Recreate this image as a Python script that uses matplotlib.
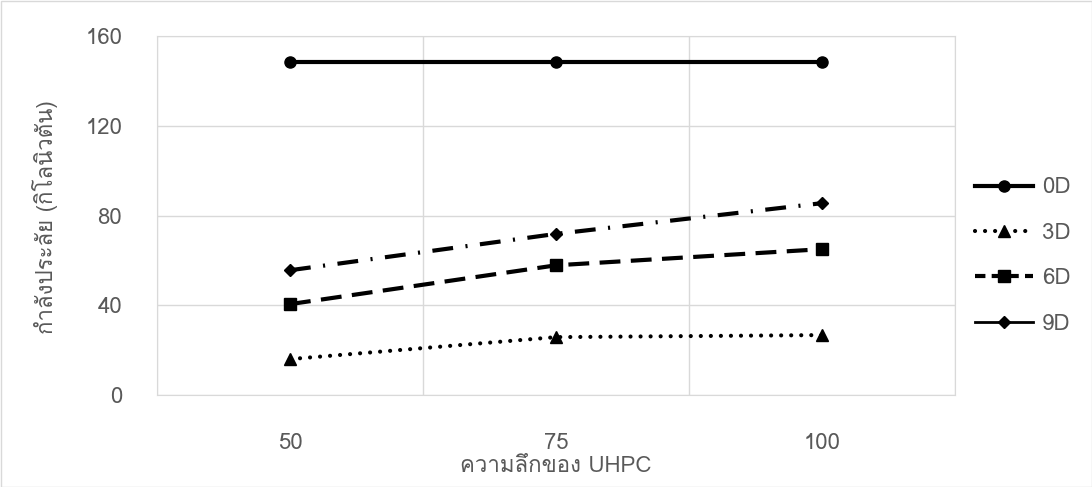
import matplotlib
matplotlib.use("Agg")
import matplotlib.pyplot as plt
from matplotlib import font_manager
from matplotlib.ft2font import FT2Font
from matplotlib.lines import Line2D

# find a font with Thai glyphs
thai_font = None
for f in font_manager.fontManager.ttflist:
    try:
        cm = FT2Font(f.fname).get_charmap()
        if 0x0E01 in cm and 0x0E32 in cm:
            thai_font = f.name
            break
    except Exception:
        pass
fams = ([thai_font] if thai_font else []) + ["DejaVu Sans"]
plt.rcParams['font.family'] = fams

categories = [50, 75, 100]
s0D = [148.5, 148.5, 148.5]
s3D = [16.0, 25.8, 26.7]
s6D = [40.5, 57.8, 65.0]
s9D = [55.6, 71.8, 85.5]
yticks = [0, 40, 80, 120, 160]
xlabel = "ความลึกของ UHPC"
ylabel = "กำลังประลัย (กิโลนิวตัน)"

txt = "#595959"
dot = (0, (0.01, 2.4))
fig = plt.figure(figsize=(10.92, 4.87), dpi=100)
ax = fig.add_axes([157/1092, 1-395/487, (955-157)/1092, (395-36)/487])

ax.plot(categories, s0D, color="black", lw=3, marker="o", ms=8, label="0D")
ax.plot(categories, s3D, color="black", lw=3, ls=dot, dash_capstyle="round", marker="^", ms=8, label="3D")
ax.plot(categories, s6D, color="black", lw=3, ls=(0, (5, 2.5)), marker="s", ms=8, label="6D")
ax.plot(categories, s9D, color="black", lw=3, ls=(0, (5, 3, 0.5, 3)), marker="D", ms=6, label="9D")

ax.set_xlim(37.5, 112.5)
ax.set_ylim(0, 160)
ax.set_yticks(yticks)
ax.set_xticks([37.5, 62.5, 87.5, 112.5])
ax.set_xticklabels([])
ax.tick_params(length=0, labelsize=16, colors=txt, pad=25)
ax.grid(True, color="#d9d9d9", lw=1)
for s in ax.spines.values():
    s.set_color("#d9d9d9")
ax.set_axisbelow(True)
for c in categories:
    ax.text(c, -0.135, str(c), transform=ax.get_xaxis_transform(), ha="center", va="center",
            fontsize=16, color=txt)
fig.text((157+955)/2/1092, 1-467/487, xlabel, ha="center", va="center", fontsize=16, color=txt)
fig.text(45/1092, 1-217/487, ylabel, ha="center", va="center", rotation=90, fontsize=16, color=txt)

handles = [
    Line2D([], [], color="black", lw=3, marker="o", ms=8),
    Line2D([], [], color="black", lw=3, ls=dot, dash_capstyle="round", marker="^", ms=8),
    Line2D([], [], color="black", lw=3, ls=(0, (2.5, 1.5)), marker="s", ms=8),
    Line2D([], [], color="black", lw=2, marker="D", ms=6),
]
fig.legend(handles, ["0D", "3D", "6D", "9D"], loc="center left",
           bbox_to_anchor=(955/1092, 1-256/487), frameon=False, fontsize=16,
           labelcolor=txt, handlelength=2.6, labelspacing=1.1, handletextpad=0.4)

fig.patches.append(plt.Rectangle((0.5/1092, 0.5/487), 1-1/1092, 1-1/487, transform=fig.transFigure,
                                 fill=False, edgecolor="#d9d9d9", lw=1))
fig.savefig("out.png", dpi=100)
